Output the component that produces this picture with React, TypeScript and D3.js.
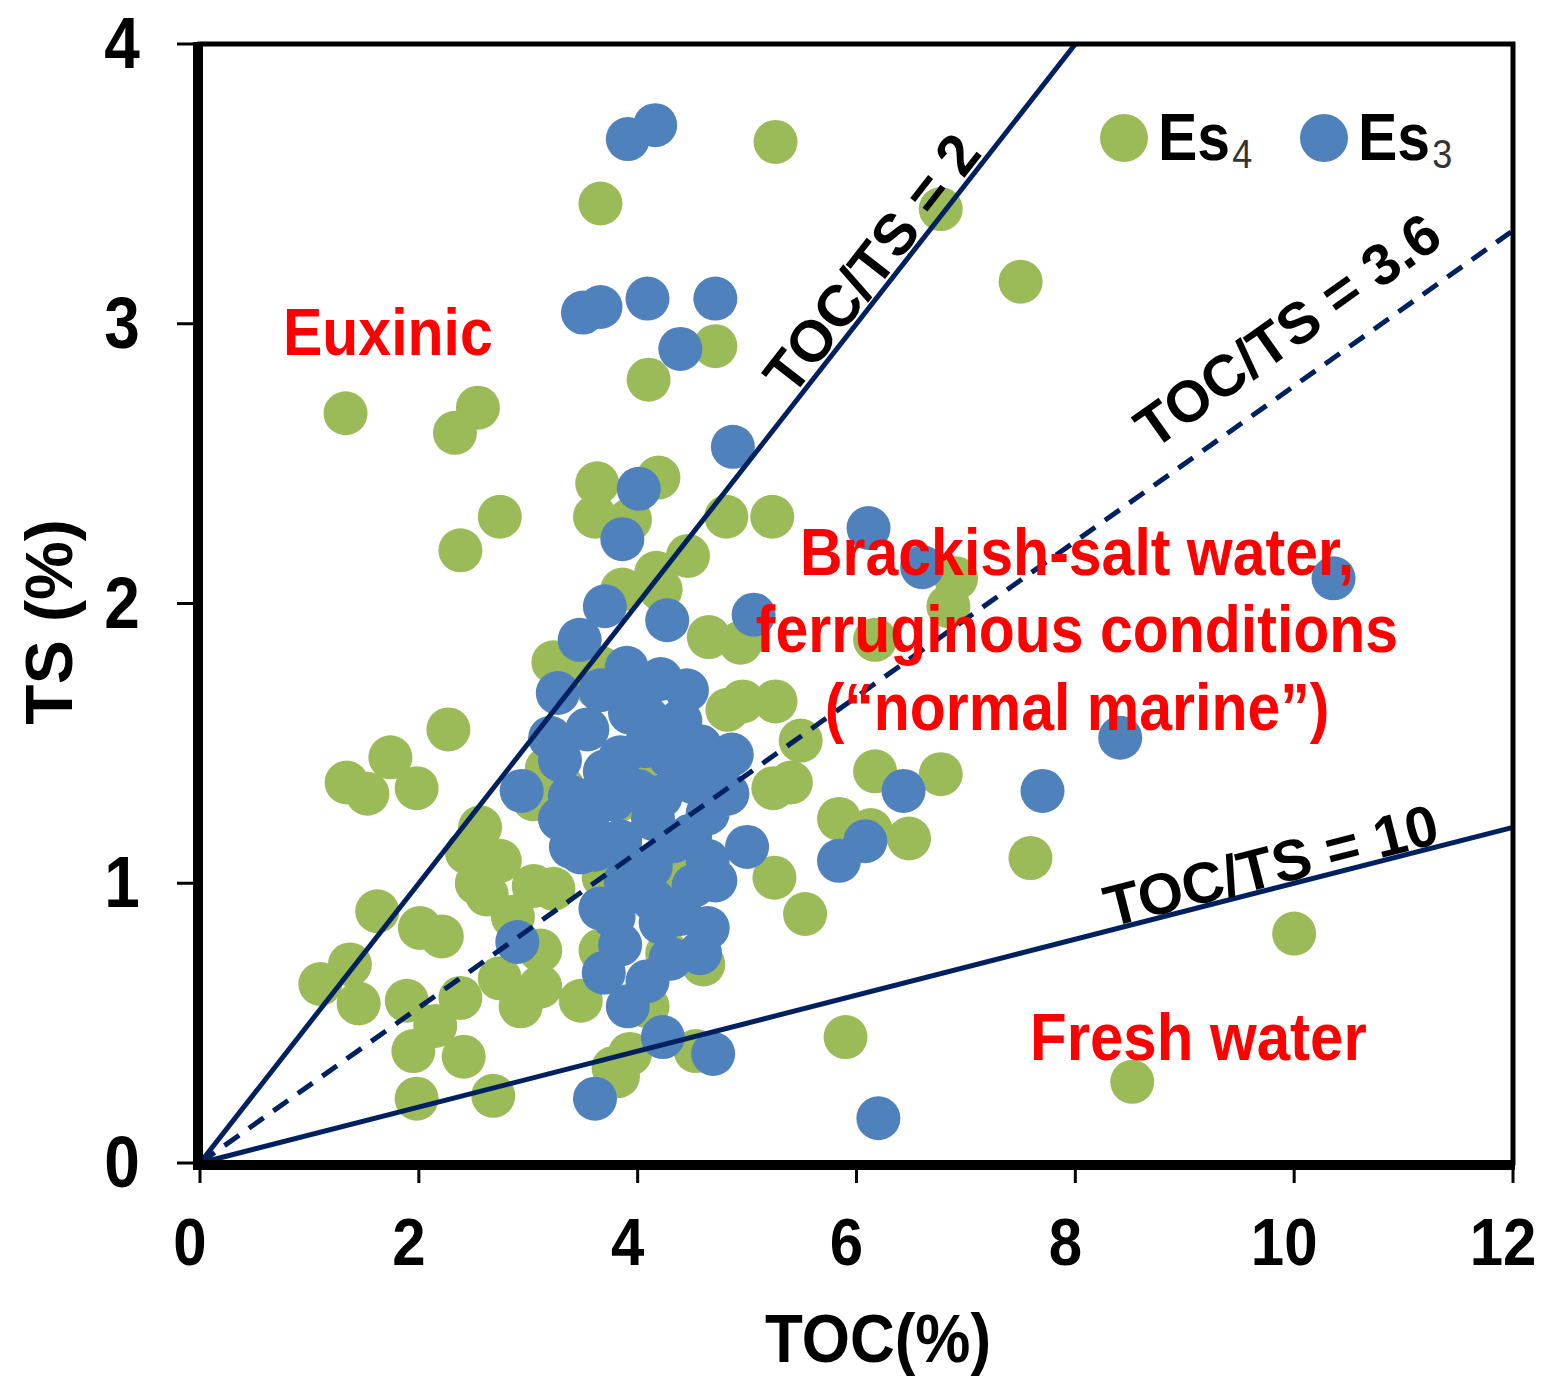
import { useEffect, useRef } from "react";
import * as d3 from "d3";

// Es4 samples: [TOC %, TS %]
const es4: [number, number][] = [
  [5.26, 3.65], [3.66, 3.43], [6.77, 3.41], [7.5, 3.15], [4.71, 2.92], [4.1, 2.8], [1.33, 2.68], [2.54, 2.7],
  [2.33, 2.61], [2.74, 2.31], [2.38, 2.19], [3.63, 2.43], [4.19, 2.45], [3.61, 2.31], [3.93, 2.3], [4.81, 2.31],
  [5.23, 2.31], [4.46, 2.17], [4.17, 2.11], [3.86, 2.05], [6.91, 2.09], [6.84, 1.99], [6.17, 1.87], [4.65, 1.88],
  [4.94, 1.86], [4.96, 1.65], [5.26, 1.65], [3.35, 1.76], [2.27, 1.55], [1.74, 1.45], [1.34, 1.36], [1.53, 1.32],
  [1.98, 1.34], [5.49, 1.51], [5.4, 1.36], [6.17, 1.4], [6.77, 1.39], [5.84, 1.23], [6.13, 1.19], [6.48, 1.16],
  [7.59, 1.09], [5.25, 1.02], [5.53, 0.89], [10.0, 0.82], [5.9, 0.45], [8.52, 0.29], [3.82, 0.31], [4.53, 0.4],
  [4.6, 0.71], [1.62, 0.9], [1.1, 0.64], [1.45, 0.57], [1.37, 0.71], [2.01, 0.84], [2.21, 0.81], [1.89, 0.58],
  [1.95, 0.4], [2.41, 0.38], [1.98, 0.23], [2.68, 0.24], [2.53, 1.0], [2.86, 0.88], [2.38, 0.59], [2.93, 0.56],
  [2.74, 0.66], [3.11, 0.76], [3.48, 0.58], [3.23, 0.98], [3.69, 1.02], [3.78, 0.34], [4.09, 0.56], [2.15, 0.49],
  [3.17, 1.41], [3.05, 1.3], [2.56, 1.2], [2.44, 1.11], [2.74, 1.08], [2.62, 0.96], [3.63, 1.7], [3.66, 1.77],
  [3.23, 1.79], [4.21, 2.05], [4.82, 1.62], [3.32, 1.34], [5.24, 1.34], [3.05, 0.99], [3.11, 0.63], [3.93, 0.39],
  [4.18, 0.94], [4.27, 0.75], [3.84, 1.3], [4.39, 1.01], [3.66, 0.76], [4.02, 1.44],
];

// Es3 samples: [TOC %, TS %]
const es3: [number, number][] = [
  [3.91, 3.66], [4.16, 3.71], [3.5, 3.04], [3.66, 3.06], [4.09, 3.09], [4.71, 3.09], [4.39, 2.91], [4.87, 2.56],
  [4.01, 2.41], [3.86, 2.23], [6.11, 2.27], [6.6, 2.13], [10.36, 2.09], [5.06, 1.96], [3.7, 1.99], [3.47, 1.87],
  [4.27, 1.94], [3.27, 1.68], [8.41, 1.52], [7.7, 1.33], [6.43, 1.33], [6.08, 1.15], [5.84, 1.08], [5.0, 1.13],
  [4.86, 1.46], [2.94, 1.33], [3.39, 1.13], [6.2, 0.16], [3.61, 0.23], [4.69, 0.39], [4.23, 0.45], [2.9, 0.79],
  [3.9, 1.77], [4.21, 1.73], [4.45, 1.69], [3.93, 1.61], [4.39, 1.58], [3.54, 1.55], [3.2, 1.52], [3.84, 1.45],
  [4.3, 1.45], [3.38, 1.31], [4.0, 1.33], [4.51, 1.36], [4.82, 1.32], [3.54, 1.23], [4.14, 1.23], [4.64, 1.25],
  [3.84, 1.15], [4.33, 1.15], [4.64, 1.08], [3.66, 0.91], [4.14, 0.94], [4.64, 0.84], [4.21, 0.86], [3.69, 0.68],
  [4.09, 0.65], [3.91, 0.56], [4.57, 0.75], [3.48, 1.11], [4.51, 0.99], [3.78, 0.88], [4.09, 0.96], [4.09, 1.59],
  [3.78, 1.3], [3.66, 1.69], [4.07, 1.49], [4.57, 1.49], [3.7, 1.4], [4.21, 1.31], [3.61, 1.12], [4.12, 1.06],
  [4.48, 1.17], [3.89, 1.01], [4.39, 0.89], [3.84, 0.78], [4.3, 0.73], [3.29, 1.44], [3.57, 1.3], [4.71, 1.37],
  [4.02, 1.65], [4.71, 1.01], [3.29, 1.23],
];

// TOC/TS reference ratios, with where each label sits along its line (TOC) and how far off it (px)
const ratios = [2, 3.6, 10];
const ratioLabelToc = [6.32, 10.2, 9.84];
const ratioLabelOffset = [5, 29, 3];
const xTicks = [0, 2, 4, 6, 8, 10, 12];
const yTicks = [0, 1, 2, 3, 4];

const FONT = "'Liberation Sans', Arial, Helvetica, sans-serif";
const GREEN = "#9BBB59";
const BLUE = "#4F81BD";
const NAVY = "#002060";
const RED = "#FF0000";
const SY = 1.12; // the source text is slightly tall

const App = () => {
  const svgRef = useRef<SVGSVGElement>(null);

  useEffect(() => {
    if (!svgRef.current) return;
    const svg = d3.select(svgRef.current);
    svg.selectAll("*").remove();

    const x = d3.scaleLinear().domain([0, 12]).range([200, 1513]);
    const y = d3.scaleLinear().domain([0, 4]).range([1163, 44]);

    const text = (str: string, tx: number, ty: number, size: number, fill = "#000", anchor = "middle", weight = "bold") =>
      svg.append("text")
        .attr("transform", `translate(${tx},${ty}) scale(1,${SY})`)
        .attr("text-anchor", anchor)
        .attr("font-family", FONT)
        .attr("font-weight", weight)
        .attr("font-size", size)
        .attr("fill", fill)
        .text(str);

    // points
    svg.append("g").selectAll("circle").data(es4).join("circle")
      .attr("cx", d => x(d[0])).attr("cy", d => y(d[1])).attr("r", 22).attr("fill", GREEN);
    svg.append("g").selectAll("circle").data(es3).join("circle")
      .attr("cx", d => x(d[0])).attr("cy", d => y(d[1])).attr("r", 22).attr("fill", BLUE);

    // ratio lines TS = TOC / r, clipped to the plot box
    ratios.forEach(r => {
      const xe = Math.min(12, 4 * r);
      svg.append("line")
        .attr("x1", x(0)).attr("y1", y(0)).attr("x2", x(xe)).attr("y2", y(xe / r))
        .attr("stroke", NAVY).attr("stroke-width", 5)
        .attr("stroke-dasharray", r === 3.6 ? "18,12" : null);
    });

    // frame + axes
    svg.append("rect")
      .attr("x", x(0)).attr("y", y(4)).attr("width", x(12) - x(0)).attr("height", y(0) - y(4))
      .attr("fill", "none").attr("stroke", "#000").attr("stroke-width", 5);
    svg.append("line").attr("x1", x(0) - 2).attr("x2", x(0) - 2).attr("y1", y(4) - 2).attr("y2", y(0) + 7)
      .attr("stroke", "#000").attr("stroke-width", 10);
    svg.append("line").attr("x1", x(0) - 7).attr("x2", x(12) + 2).attr("y1", y(0) + 2).attr("y2", y(0) + 2)
      .attr("stroke", "#000").attr("stroke-width", 10);

    svg.append("g").selectAll("line").data(yTicks).join("line")
      .attr("x1", x(0) - 23).attr("x2", x(0) - 6).attr("y1", d => y(d)).attr("y2", d => y(d))
      .attr("stroke", "#000").attr("stroke-width", 3);
    svg.append("g").selectAll("line").data(xTicks).join("line")
      .attr("x1", d => x(d)).attr("x2", d => x(d)).attr("y1", y(0) + 6).attr("y2", y(0) + 20)
      .attr("stroke", "#000").attr("stroke-width", 3);

    yTicks.forEach(t => text(String(t), 122, y(t) + 24, 64));
    xTicks.forEach(t => text(String(t), x(t) - 10, 1265, 60));

    text("TOC(%)", 878, 1362, 62);
    svg.append("text")
      .attr("transform", `translate(72,622) rotate(-90)`)
      .attr("text-anchor", "middle")
      .attr("font-family", FONT).attr("font-weight", "bold").attr("font-size", 66)
      .text("TS (%)");

    // ratio labels along the lines
    ratios.forEach((r, i) => {
      const toc = ratioLabelToc[i];
      const px = x(toc), py = y(toc / r);
      const ang = Math.atan2(y(1 / r) - y(0), x(1) - x(0));
      const nx = Math.sin(ang), ny = -Math.cos(ang);
      const off = ratioLabelOffset[i];
      svg.append("text")
        .attr("transform", `translate(${px + nx * off},${py + ny * off}) rotate(${(ang * 180) / Math.PI})`)
        .attr("text-anchor", "middle")
        .attr("font-family", FONT).attr("font-weight", "bold").attr("font-size", 58)
        .text(`TOC/TS = ${r}`);
    });

    // legend
    const legend = [
      { name: "Es", sub: "4", color: GREEN, cx: 1124, tx: 1158 },
      { name: "Es", sub: "3", color: BLUE, cx: 1324, tx: 1358 },
    ];
    legend.forEach(l => {
      svg.append("circle").attr("cx", l.cx).attr("cy", 138).attr("r", 24).attr("fill", l.color);
      const t = text(l.name, l.tx, 160, 59, "#000", "start");
      t.append("tspan").attr("font-weight", "normal").attr("font-size", 36).attr("fill", "#333")
        .attr("dx", 2).attr("dy", 7).text(l.sub);
    });

    // regime labels
    text("Euxinic", 283, 355, 59, RED, "start");
    text("Brackish-salt water,", 1077, 575, 59, RED);
    text("ferruginous conditions", 1077, 652, 59, RED);
    text("(\u201Cnormal marine\u201D)", 1077, 730, 59, RED);
    text("Fresh water", 1030, 1060, 60, RED, "start");
  }, []);

  return (
    <svg ref={svgRef} width={1549} height={1376}
      style={{ position: "absolute", left: 0, top: 0, background: "#fff" }} />
  );
};

export default App;
